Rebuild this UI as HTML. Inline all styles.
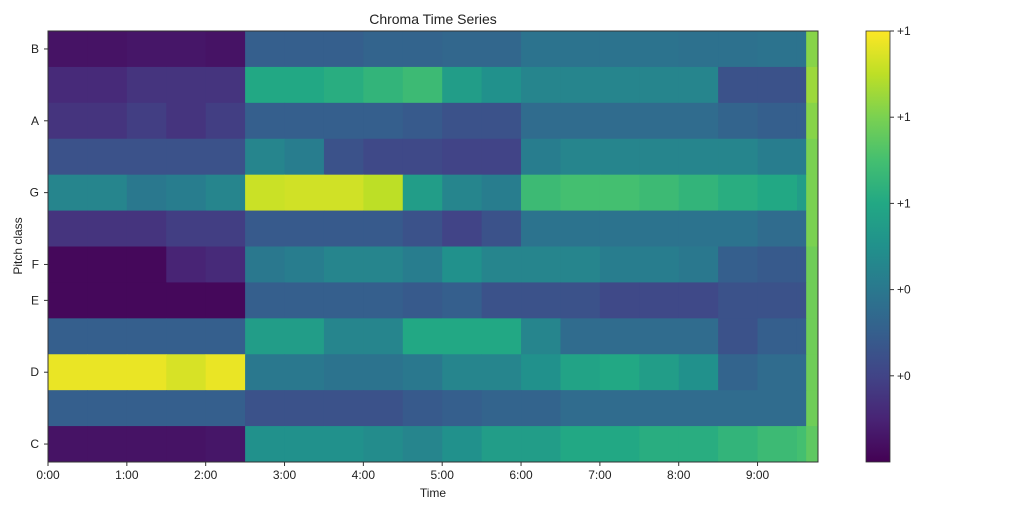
<!DOCTYPE html>
<html><head><meta charset="utf-8"><style>
body{margin:0;background:#fff;font-family:"Liberation Sans",sans-serif;}
svg text{font-family:"Liberation Sans",sans-serif;fill:#222;}
</style></head><body>
<svg id="chart" width="1024" height="512" xmlns="http://www.w3.org/2000/svg">
<text x="433" y="24" font-size="14" text-anchor="middle">Chroma Time Series</text>
<g id="cells"></g>
<rect x="48" y="31" width="770" height="431" fill="none" stroke="#333" stroke-width="1"/>
<g id="xaxis"></g>
<g id="yaxis"></g>
<text x="433" y="497" font-size="12" text-anchor="middle">Time</text>
<text x="22" y="246" font-size="12" text-anchor="middle" transform="rotate(-90 22 246)">Pitch class</text>
<defs><linearGradient id="vg" x1="0" y1="1" x2="0" y2="0">
<stop offset="0" stop-color="#440154"/><stop offset="0.1" stop-color="#482475"/><stop offset="0.2" stop-color="#414487"/><stop offset="0.3" stop-color="#355f8d"/><stop offset="0.4" stop-color="#2a788e"/><stop offset="0.5" stop-color="#21918c"/><stop offset="0.6" stop-color="#22a884"/><stop offset="0.7" stop-color="#44bf70"/><stop offset="0.8" stop-color="#7ad151"/><stop offset="0.9" stop-color="#bddf26"/><stop offset="1" stop-color="#fde725"/></linearGradient></defs>
<rect x="866" y="31" width="24" height="431" fill="url(#vg)" stroke="#333" stroke-width="0.8"/>
<g id="cbticks"></g>
</svg>
<script>
const segStart=[0,30,60,90,120,150,180,210,240,270,300,330,360,390,420,450,480,510,540,570,577];
const segEnd=586;
const rowNames=["B","A#","A","G#","G","F#","F","E","D#","D","C#","C"];
const B =[.05,.05,.06,.06,.05,.3,.3,.3,.32,.32,.33,.33,.38,.38,.38,.38,.37,.37,.38,.38,.82];
const As=[.12,.12,.15,.15,.15,.6,.6,.62,.65,.68,.55,.5,.45,.45,.45,.45,.45,.25,.25,.25,.85];
const A =[.15,.15,.18,.15,.18,.3,.3,.3,.3,.28,.25,.25,.35,.35,.35,.35,.35,.32,.3,.3,.82];
const Gs=[.25,.25,.25,.25,.25,.45,.42,.25,.22,.22,.2,.2,.42,.45,.45,.45,.45,.45,.42,.42,.8];
const G =[.45,.45,.4,.42,.45,.92,.93,.93,.9,.55,.45,.42,.68,.7,.7,.68,.65,.62,.6,.55,.8];
const Fs=[.15,.15,.15,.18,.18,.28,.28,.28,.28,.25,.2,.25,.38,.38,.38,.38,.38,.38,.35,.35,.8];
const F =[.02,.02,.02,.1,.12,.4,.42,.45,.45,.42,.5,.45,.45,.45,.42,.42,.4,.3,.28,.28,.78];
const E =[.02,.02,.02,.02,.02,.3,.3,.3,.3,.28,.3,.25,.25,.25,.22,.22,.22,.25,.25,.25,.78];
const Ds=[.3,.3,.3,.3,.3,.55,.55,.45,.45,.6,.6,.6,.45,.35,.35,.35,.35,.25,.3,.3,.78];
const D =[.97,.97,.97,.94,.97,.4,.4,.38,.38,.4,.45,.45,.5,.58,.6,.55,.5,.32,.35,.35,.78];
const Cs=[.3,.3,.3,.3,.3,.25,.25,.25,.25,.28,.3,.32,.32,.35,.35,.35,.35,.35,.35,.35,.78];
const C =[.05,.05,.05,.05,.06,.5,.5,.5,.48,.45,.5,.55,.55,.6,.6,.62,.62,.65,.68,.7,.75];
const rows=[B,As,A,Gs,G,Fs,F,E,Ds,D,Cs,C];
const xTicks=[0,60,120,180,240,300,360,420,480,540];
const xTickLabels=["0:00","1:00","2:00","3:00","4:00","5:00","6:00","7:00","8:00","9:00"];
const yLabelRows=[0,2,4,6,7,9,11];
const cbTickVals=[1,0.8,0.6,0.4,0.2];
const cbTickLabels=["+1","+1","+1","+0","+0"];

const X0=48,X1=818,Y0=31,Y1=462;
const xs=t=>X0+t*(X1-X0)/segEnd;
const rh=(Y1-Y0)/rows.length;
const ys=i=>Y0+i*rh;
const stops=[[68,1,84],[72,36,117],[65,68,135],[53,95,141],[42,120,142],[33,145,140],[34,168,132],[68,191,112],[122,209,81],[189,223,38],[253,231,37]];
function vir(v){v=Math.max(0,Math.min(1,v));const p=v*(stops.length-1),i=Math.min(stops.length-2,Math.floor(p)),f=p-i;
const c=stops[i].map((a,k)=>Math.round(a+(stops[i+1][k]-a)*f));return `rgb(${c[0]},${c[1]},${c[2]})`;}
const NS="http://www.w3.org/2000/svg";
const cells=document.getElementById('cells');
rows.forEach((r,i)=>{r.forEach((v,j)=>{
 const t0=segStart[j],t1=j+1<segStart.length?segStart[j+1]:segEnd;
 const el=document.createElementNS(NS,'rect');
 el.setAttribute('x',xs(t0));el.setAttribute('y',ys(i));
 el.setAttribute('width',xs(t1)-xs(t0)+0.5);el.setAttribute('height',rh+0.5);
 el.setAttribute('fill',vir(v));
 
 
 cells.appendChild(el);});});
const xa=document.getElementById('xaxis');
xTicks.forEach((t,k)=>{const x=xs(t);
 const l=document.createElementNS(NS,'line');l.setAttribute('x1',x);l.setAttribute('x2',x);l.setAttribute('y1',Y1);l.setAttribute('y2',Y1+4);l.setAttribute('stroke','#333');
 
 
 xa.appendChild(l);
 const tx=document.createElementNS(NS,'text');tx.setAttribute('x',x);tx.setAttribute('y',Y1+17);tx.setAttribute('font-size','12');tx.setAttribute('text-anchor','middle');tx.textContent=xTickLabels[k];
 
 
 xa.appendChild(tx);});
const ya=document.getElementById('yaxis');
yLabelRows.forEach(i=>{const y=ys(i)+rh/2;
 const l=document.createElementNS(NS,'line');l.setAttribute('x1',X0-4);l.setAttribute('x2',X0);l.setAttribute('y1',y);l.setAttribute('y2',y);l.setAttribute('stroke','#333');
 
 
 ya.appendChild(l);
 const tx=document.createElementNS(NS,'text');tx.setAttribute('x',X0-9);tx.setAttribute('y',y+4);tx.setAttribute('font-size','12');tx.setAttribute('text-anchor','end');tx.textContent=rowNames[i];
 
 
 ya.appendChild(tx);});
const cb=document.getElementById('cbticks');
cbTickVals.forEach((v,k)=>{const y=Y1-v*(Y1-Y0);
 const l=document.createElementNS(NS,'line');l.setAttribute('x1',890);l.setAttribute('x2',894);l.setAttribute('y1',y);l.setAttribute('y2',y);l.setAttribute('stroke','#333');
 
 
 cb.appendChild(l);
 const tx=document.createElementNS(NS,'text');tx.setAttribute('x',897);tx.setAttribute('y',y+4);tx.setAttribute('font-size','12');tx.textContent=cbTickLabels[k];
 
 
 cb.appendChild(tx);});
</script>
</body></html>
